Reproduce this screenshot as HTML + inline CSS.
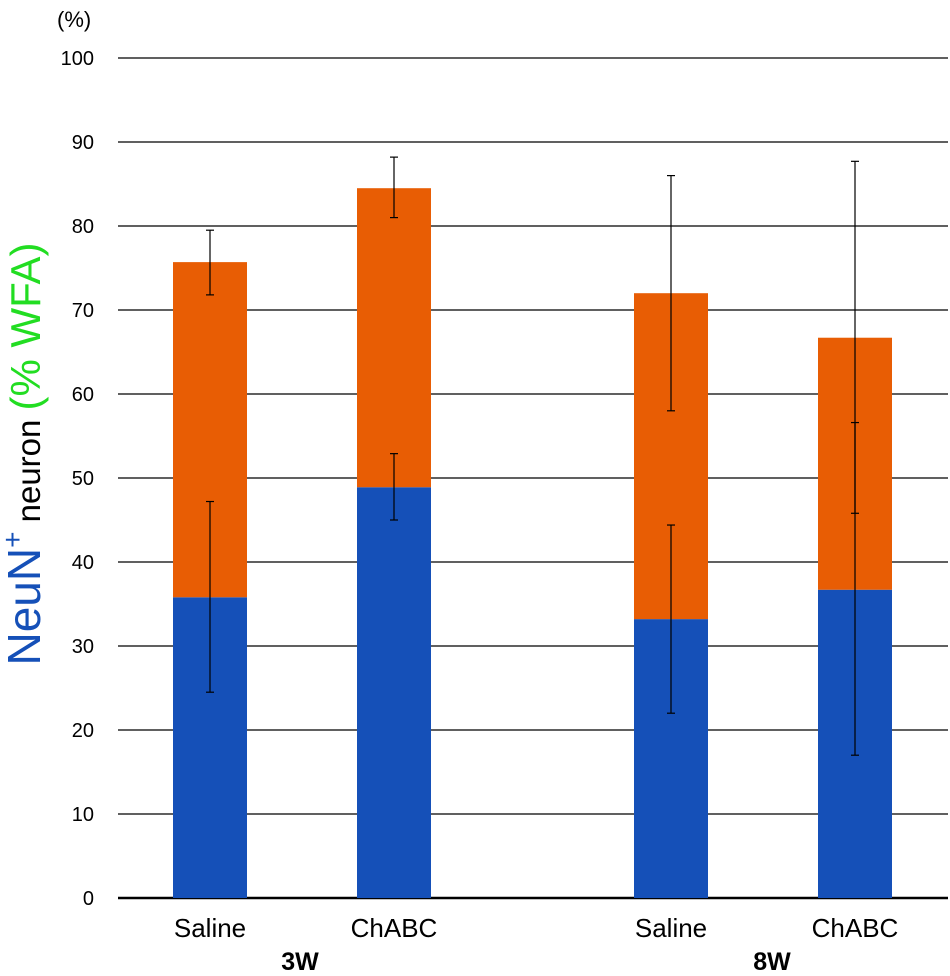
<!DOCTYPE html>
<html><head><meta charset="utf-8"><style>
html,body{margin:0;padding:0;background:#fff;}
svg{display:block;font-family:"Liberation Sans",sans-serif;}
</style></head><body>
<svg id="chart" width="950" height="976" viewBox="0 0 950 976" xmlns="http://www.w3.org/2000/svg">
<g id="grid"></g>
<g id="bars"></g>
<g id="errs"></g>
<g id="yticks"></g>
<g id="xlabels"></g>
<text x="57" y="27" font-size="22">(%)</text>
<text transform="translate(40,454) rotate(-90)" text-anchor="middle"><tspan fill="#1550B8" font-size="46">NeuN</tspan><tspan fill="#1550B8" font-size="28" dy="-18">+</tspan><tspan fill="#000" font-size="33" dy="18"> neuron </tspan><tspan fill="#22DD22" font-size="42">(% WFA)</tspan></text>
</svg>
<script>
const categories=["Saline","ChABC","Saline","ChABC"];
const groups=["3W","8W"];
const blueValues=[35.8,48.9,33.2,36.7];
const totalValues=[75.7,84.5,72.0,66.7];
const blueErrHigh=[47.2,52.9,44.4,56.6];
const blueErrLow=[24.5,45.0,22.0,17.0];
const totErrHigh=[79.5,88.2,86.0,87.7];
const totErrLow=[71.8,81.0,58.0,45.8];
const yTicks=[0,10,20,30,40,50,60,70,80,90,100];
const NS="http://www.w3.org/2000/svg";
const y=v=>898-v*8.4;
const barCenters=[210,394,671,855];
const x=i=>barCenters[i];
const bw=74;
function mk(t,a,p){const e=document.createElementNS(NS,t);for(const k in a)e.setAttribute(k,a[k]);p.appendChild(e);return e;}
const grid=document.getElementById('grid'),yt=document.getElementById('yticks');
yTicks.forEach(v=>{
 const l=mk('line',{x1:118,x2:948,y1:y(v),y2:y(v),stroke:'#000','stroke-width':v===0?2.5:1.2},grid);
 
 
 const t=mk('text',{x:94,y:y(v)+7,'text-anchor':'end','font-size':20},yt);t.textContent=v;
 
 
});
const bars=document.getElementById('bars'),errs=document.getElementById('errs'),xl=document.getElementById('xlabels');
categories.forEach((c,i)=>{
 const b=mk('rect',{x:x(i)-bw/2,y:y(blueValues[i]),width:bw,height:y(0)-y(blueValues[i]),fill:'#1550B8'},bars);
 
 
 const o=mk('rect',{x:x(i)-bw/2,y:y(totalValues[i]),width:bw,height:y(blueValues[i])-y(totalValues[i]),fill:'#E85D04'},bars);
 
 
 [[totErrLow[i],totErrHigh[i]],[blueErrLow[i],blueErrHigh[i]]].forEach(([lo,hi],k)=>{
  const g=mk('g',{stroke:'#000','stroke-width':1.2},errs);
  
  
  mk('line',{x1:x(i),x2:x(i),y1:y(hi),y2:y(lo)},g);
  mk('line',{x1:x(i)-4,x2:x(i)+4,y1:y(hi),y2:y(hi)},g);
  mk('line',{x1:x(i)-4,x2:x(i)+4,y1:y(lo),y2:y(lo)},g);
 });
 const t=mk('text',{x:x(i),y:937,'text-anchor':'middle','font-size':26},xl);t.textContent=c;
 
 
});
groups.forEach((g,k)=>{
 const t=mk('text',{x:k===0?300:772,y:970,'text-anchor':'middle','font-size':25,'font-weight':'bold'},xl);t.textContent=g;
 
 
});
</script>
</body></html>
